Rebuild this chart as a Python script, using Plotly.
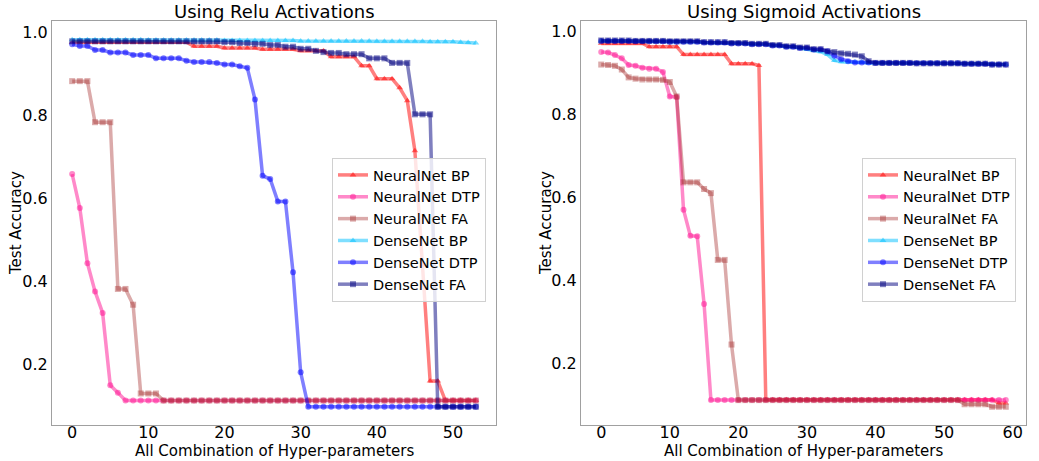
import plotly.graph_objects as go

# ---------------- data: Relu (x = 0..53) ----------------
relu_x = list(range(54))

relu_nn_bp = [0.977]*16 + [0.967]*4 + [0.963]*5 + [0.960]*5 + [0.956]*4 + \
    [0.942]*4 + [0.920]*2 + [0.889]*3 + [0.867, 0.836, 0.715, 0.44, 0.160, 0.160] + [0.113]*5

relu_nn_dtp = [0.659, 0.577, 0.444, 0.376, 0.324, 0.150, 0.132] + [0.113]*47

relu_nn_fa = [0.883]*3 + [0.784]*3 + [0.382, 0.382, 0.344] + [0.130]*3 + [0.113]*42

relu_dn_bp = [0.983]*10 + [0.982]*10 + [0.981]*10 + [0.980]*10 + [0.979]*7 + \
    [0.978]*4 + [0.977, 0.976, 0.975]

relu_dn_dtp = [0.972, 0.968, 0.968, 0.958, 0.958, 0.952, 0.952, 0.952, 0.946, 0.946, 0.946,
               0.938, 0.938, 0.938, 0.938, 0.932, 0.929, 0.929, 0.929, 0.927, 0.923, 0.923,
               0.919, 0.915, 0.839, 0.655, 0.647, 0.593, 0.593, 0.422, 0.181] + [0.098]*23

relu_dn_fa = [0.979]*20 + [0.977]*2 + [0.975]*2 + [0.973]*2 + [0.970]*2 + [0.966]*2 + \
    [0.961]*2 + [0.956, 0.953, 0.951, 0.951] + [0.948]*3 + [0.938]*3 + [0.927]*3 + \
    [0.803]*3 + [0.098]*6

# ---------------- data: Sigmoid (x = 0..59) ----------------
sig_x = list(range(60))

sig_nn_bp = [0.972]*7 + [0.964]*5 + [0.945]*7 + [0.923]*4 + [0.919] + [0.113]*34 + [0.105]*2

sig_nn_dtp = [0.951, 0.950, 0.944, 0.936, 0.920, 0.918, 0.913, 0.911, 0.911, 0.903,
              0.844, 0.843, 0.571, 0.508, 0.507, 0.344] + [0.112]*44

sig_nn_fa = [0.921, 0.920, 0.918, 0.909, 0.890, 0.887, 0.885, 0.885, 0.885, 0.884,
             0.879, 0.844, 0.637, 0.637, 0.637, 0.621, 0.611, 0.450, 0.450, 0.246] + \
    [0.112]*33 + [0.102]*4 + [0.096]*3

sig_dn_bp = [0.978]*5 + [0.977]*5 + [0.976]*5 + [0.974]*4 + [0.972]*3 + [0.970]*3 + \
    [0.967]*2 + [0.964]*2 + [0.961, 0.958, 0.955, 0.952, 0.945, 0.931, 0.928] + \
    [0.927]*3 + [0.925]*7 + [0.924]*7 + [0.923]*4 + [0.921]*3

sig_dn_dtp = [0.978]*5 + [0.977]*5 + [0.976]*5 + [0.974]*4 + [0.972]*3 + [0.970]*3 + \
    [0.967]*2 + [0.964]*2 + [0.961]*2 + [0.957]*2 + [0.953, 0.942, 0.934, 0.929] + \
    [0.926]*3 + [0.925]*6 + [0.924]*7 + [0.923]*4 + [0.921]*3

sig_dn_fa = [0.979]*5 + [0.978]*5 + [0.977]*5 + [0.975]*4 + [0.973]*3 + [0.971]*3 + \
    [0.968]*2 + [0.965]*2 + [0.962]*2 + [0.958]*2 + [0.953, 0.951, 0.948, 0.947, 0.945,
                                                    0.941, 0.929] + \
    [0.925]*6 + [0.924]*7 + [0.923]*4 + [0.921]*3

series_names = ["NeuralNet BP", "NeuralNet DTP", "NeuralNet FA",
                "DenseNet BP", "DenseNet DTP", "DenseNet FA"]
relu_series = [relu_nn_bp, relu_nn_dtp, relu_nn_fa, relu_dn_bp, relu_dn_dtp, relu_dn_fa]
sig_series = [sig_nn_bp, sig_nn_dtp, sig_nn_fa, sig_dn_bp, sig_dn_dtp, sig_dn_fa]

colors = ["rgba(255,0,0,0.5)", "rgba(255,20,147,0.5)", "rgba(165,42,42,0.4)",
          "rgba(0,191,255,0.5)", "rgba(0,0,255,0.5)", "rgba(0,0,128,0.5)"]
symbols = ["triangle-up", "circle", "square", "triangle-up", "circle", "square"]

FONT = "DejaVu Sans"

fig = go.Figure()
for name, ys, c, s in zip(series_names, relu_series, colors, symbols):
    fig.add_trace(go.Scatter(x=relu_x, y=ys, name=name, mode="lines+markers",
                             line=dict(color=c, width=3.5),
                             marker=dict(color=c, symbol=s, size=6),
                             xaxis="x", yaxis="y", legend="legend"))
for name, ys, c, s in zip(series_names, sig_series, colors, symbols):
    fig.add_trace(go.Scatter(x=sig_x, y=ys, name=name, mode="lines+markers",
                             line=dict(color=c, width=3.5),
                             marker=dict(color=c, symbol=s, size=6),
                             xaxis="x2", yaxis="y2", legend="legend2"))

W, H = 1039, 461


def px(v):
    return v / W


def py(v):
    return 1 - v / H


axis_common = dict(showline=True, mirror=True, linecolor="#a0a0a0", linewidth=1,
                   showgrid=False, zeroline=False, ticks="",
                   tickfont=dict(family=FONT, size=16, color="black"))

L1, R1 = 52, 496
L2, R2 = 581, 1026
TOP, BOT = 21, 425

fig.update_layout(
    width=W, height=H, margin=dict(l=0, r=0, t=0, b=0),
    paper_bgcolor="white", plot_bgcolor="white",
    font=dict(family=FONT, color="black"),
    showlegend=True,
    xaxis=dict(domain=[px(L1), px(R1)], range=[-2.65, 55.65], tickvals=[0, 10, 20, 30, 40, 50],
               anchor="y", ticklabelstandoff=-7, **axis_common),
    yaxis=dict(domain=[py(BOT), py(TOP)], range=[0.054, 1.028],
               tickvals=[0.2, 0.4, 0.6, 0.8, 1.0], tickformat=".1f",
               anchor="x", **axis_common),
    xaxis2=dict(domain=[px(L2), px(R2)], range=[-2.95, 61.95],
                tickvals=[0, 10, 20, 30, 40, 50, 60], anchor="y2", ticklabelstandoff=-7,
                **axis_common),
    yaxis2=dict(domain=[py(BOT), py(TOP)], range=[0.052, 1.026],
                tickvals=[0.2, 0.4, 0.6, 0.8, 1.0], tickformat=".1f",
                anchor="x2", **axis_common),
    legend=dict(x=px(332), y=py(158), xanchor="left", yanchor="top",
                bgcolor="rgba(255,255,255,0.8)", bordercolor="#d0d0d0", borderwidth=1,
                font=dict(family=FONT, size=14.5), itemwidth=30, tracegroupgap=0),
    legend2=dict(x=px(862), y=py(158), xanchor="left", yanchor="top",
                 bgcolor="rgba(255,255,255,0.8)", bordercolor="#d0d0d0", borderwidth=1,
                 font=dict(family=FONT, size=14.5), itemwidth=30, tracegroupgap=0),
)

annots = [
    ("Using Relu Activations", (L1+R1)/2, 12, 18, 0),
    ("Using Sigmoid Activations", (L2+R2)/2, 12, 18, 0),
    ("All Combination of Hyper-parameters", (L1+R1)/2, 451, 15, 0),
    ("All Combination of Hyper-parameters", (L2+R2)/2, 451, 15, 0),
    ("Test Accuracy", 16, (TOP+BOT)/2, 15, -90),
    ("Test Accuracy", 546, (TOP+BOT)/2, 15, -90),
]
for text, ax, ay, size, ang in annots:
    fig.add_annotation(text=text, x=px(ax), y=py(ay), xref="paper", yref="paper",
                       xanchor="center", yanchor="middle", showarrow=False, textangle=ang,
                       font=dict(family=FONT, size=size, color="black"))

# remove the browser's default 8px body margin so the figure sits at the page origin
fig.write_html("out.html", config={"displayModeBar": False},
               post_script="document.body.style.margin='0px';document.body.style.overflow='hidden';")
